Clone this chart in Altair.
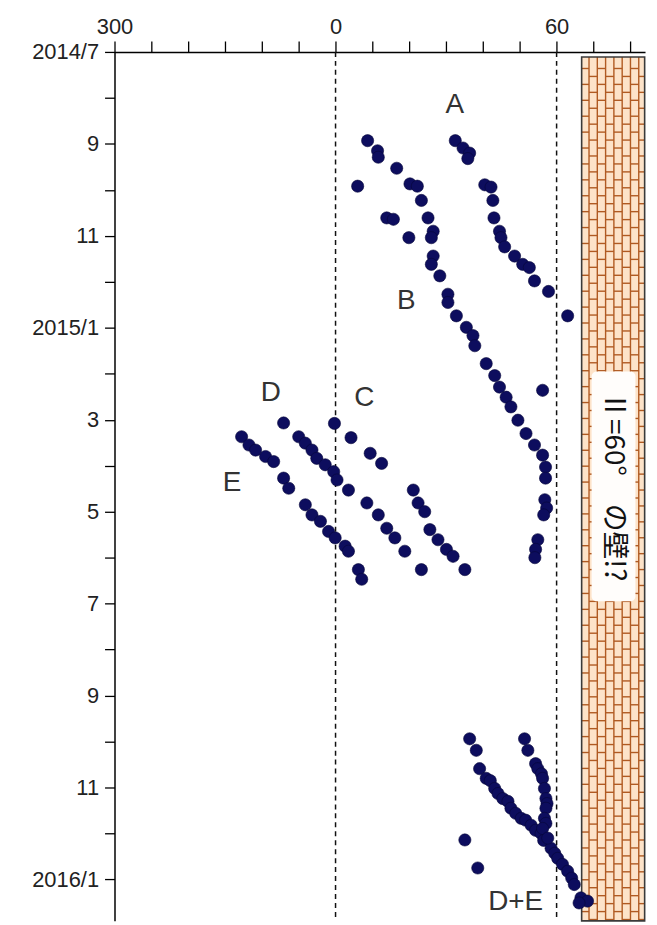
import altair as alt
import pandas as pd
import numpy as np

# ---- data: longitude (System II, deg; 300 is drawn as -60) and time (months after 2014/7) ----
A_lon = [32.5, 34.6, 36.4, 35.9, 40.5, 42.2, 42.7, 43.0, 44.5, 44.9, 45.9, 48.6, 50.8, 52.6, 54.0, 57.8, 63.0]
A_mon = [1.93, 2.09, 2.20, 2.32, 2.89, 2.94, 3.23, 3.61, 3.90, 4.04, 4.24, 4.44, 4.62, 4.69, 4.98, 5.21, 5.74]

B_lon = [8.7, 11.4, 11.6, 16.6, 20.2, 22.2, 23.3, 25.1, 26.5, 26.0, 26.5, 26.0, 28.3, 30.5, 30.5, 32.8,
         35.5, 37.3, 37.8, 40.9, 43.2, 44.5, 46.3, 47.6, 49.5, 51.7, 54.0, 56.2, 57.0, 57.0, 56.8, 57.3,
         56.5, 54.9, 54.3, 54.1]
B_mon = [1.93, 2.15, 2.29, 2.53, 2.87, 2.92, 3.23, 3.61, 3.90, 4.04, 4.44, 4.62, 4.87, 5.27, 5.45, 5.74,
         5.99, 6.17, 6.39, 6.78, 7.04, 7.29, 7.51, 7.72, 8.01, 8.30, 8.55, 8.77, 9.03, 9.27, 9.74, 9.92,
         10.07, 10.61, 10.82, 11.00]

C_lon = [-0.3, 4.2, 9.4, 12.5, 21.1, 22.4, 24.2, 25.6, 27.8, 30.1, 31.9, 35.1]
C_mon = [8.08, 8.39, 8.73, 8.95, 9.53, 9.81, 10.00, 10.39, 10.61, 10.82, 10.97, 11.26]

D_lon = [-14.1, -10.0, -8.2, -6.4, -5.1, -2.8, -0.5, 0.4, 3.5, 8.5, 11.6, 13.9, 16.1, 18.8, 23.3]
D_mon = [8.07, 8.37, 8.51, 8.66, 8.84, 8.98, 9.13, 9.31, 9.53, 9.81, 10.07, 10.36, 10.57, 10.86, 11.26]

E_lon = [-25.5, -23.5, -21.7, -19.0, -16.8, -14.1, -12.7, -8.2, -6.4, -4.1, -1.9, -0.1, 2.6, 3.5, 6.2, 7.1]
E_mon = [8.37, 8.55, 8.66, 8.80, 8.91, 9.27, 9.49, 9.85, 10.07, 10.21, 10.43, 10.57, 10.75, 10.86, 11.26, 11.47]

DE_lon = [36.4, 38.2, 39.1, 40.9, 42.0, 43.2, 44.1, 45.4, 46.8, 47.6, 48.9, 50.4, 51.6, 53.1, 54.3, 55.8,
          56.5, 58.5, 59.5, 60.3, 61.6, 63.0, 64.1, 64.8, 66.6, 68.4, 66.1,
          51.3, 52.2, 54.3, 54.9, 55.9, 56.2, 56.7, 57.1, 57.4, 57.1, 56.7, 57.1, 56.2, 57.6]
DE_mon = [14.94, 15.19, 15.59, 15.80, 15.85, 16.02, 16.13, 16.24, 16.30, 16.45, 16.56, 16.67, 16.71, 16.82,
          16.93, 17.00, 17.15, 17.32, 17.43, 17.54, 17.67, 17.82, 17.97, 18.11, 18.40, 18.47, 18.51,
          14.94, 15.19, 15.48, 15.59, 15.70, 15.80, 16.02, 16.24, 16.35, 16.45, 16.67, 16.78, 16.89, 17.10]

other_lon = [6.0, 13.9, 15.7, 19.9, 56.2, 35.1, 38.6]
other_mon = [2.92, 3.61, 3.64, 4.04, 7.36, 17.14, 17.75]

label_text = ["A", "B", "C", "D", "E", "D+E"]
label_lon = [32.4, 19.2, 7.8, -17.6, -28.1, 48.9]
label_mon = [1.15, 5.41, 7.53, 7.42, 9.37, 18.5]

ref_lon = [0, 60]
wall_text = "Ⅱ=60°　の壁!?"

# ---- tables ----
pts = pd.DataFrame({
    "lon": A_lon + B_lon + C_lon + D_lon + E_lon + DE_lon + other_lon,
    "mon": A_mon + B_mon + C_mon + D_mon + E_mon + DE_mon + other_mon,
})
labels = pd.DataFrame({"t": label_text, "lon": label_lon, "mon": label_mon})
refs = pd.DataFrame({"lon": ref_lon})

# wall (decorative brick area)
W0, W1, T0, T1 = 66.8, 83.9, 0.11, 18.9
wall = pd.DataFrame({"x": [W0], "x2": [W1], "y": [T0], "y2": [T1]})
col_w, row_h = 2.25, 0.346
vx = np.arange(W0 + 2.0, W1, col_w)
vlines = pd.DataFrame({"x": vx, "y": T0, "y2": T1})
edges = np.concatenate([[W0], vx, [W1]])
hrows = []
for k in range(len(edges) - 1):
    off = 0.0 if k % 2 == 0 else row_h / 2
    for yy in np.arange(T0 + 0.25 + off, T1, row_h):
        hrows.append({"x": edges[k], "x2": edges[k + 1], "y": yy})
hlines = pd.DataFrame(hrows)
wbox = pd.DataFrame({"x": [69.5], "x2": [81.4], "y": [6.95], "y2": [11.95]})
wtext = pd.DataFrame({"t": [wall_text], "x": [75.4], "y": [9.45]})

FONT = "Liberation Sans, Arial, sans-serif"

xscale = alt.Scale(domain=[-60, 84], nice=False, zero=False)
yscale = alt.Scale(domain=[0, 18.9], nice=False, zero=False, reverse=True)
xaxis = alt.Axis(orient="top", values=list(range(-60, 81, 10)), title=None, grid=False,
                 labelExpr="datum.value == -60 ? '300' : (datum.value == 0 || datum.value == 60 ? '' + datum.value : '')",
                 tickSize=11, tickColor="black", domainColor="black", tickWidth=1.3, domainWidth=1.5,
                 labelFont=FONT, labelFontSize=22, labelColor="#222", labelPadding=3,
                 labelFlush=False, labelOverlap=False, labelBound=False)
yaxis = alt.Axis(orient="left", values=list(range(0, 19)), title=None, grid=False,
                 labelExpr="datum.value % 2 != 0 ? '' : ((datum.value == 0 || (datum.value + 6) % 12 == 0) ? (2014 + floor((datum.value + 6) / 12)) + '/' + (((datum.value + 6) % 12) + 1) : '' + (((datum.value + 6) % 12) + 1))",
                 tickSize=10, tickColor="black", domainColor="black", tickWidth=1.3, domainWidth=1.5,
                 labelFont=FONT, labelFontSize=22, labelColor="#222", labelPadding=6,
                 labelFlush=False, labelOverlap=False, labelBound=False)


def X(f):
    return alt.X(f, type="quantitative", scale=xscale, axis=xaxis)


def Y(f):
    return alt.Y(f, type="quantitative", scale=yscale, axis=yaxis)


wall_bg = alt.Chart(wall).mark_rect(fill="#fde3c9").encode(x=X("x"), x2="x2", y=Y("y"), y2="y2")
brick_v = alt.Chart(vlines).mark_rule(color="#b05a22", strokeWidth=1.4).encode(x=X("x"), y=Y("y"), y2="y2")
brick_h = alt.Chart(hlines).mark_rule(color="#b05a22", strokeWidth=1.4).encode(x=X("x"), x2="x2", y=Y("y"))
wall_edge = alt.Chart(wall).mark_rect(filled=False, stroke="#3a3a3a", strokeWidth=1.6).encode(
    x=X("x"), x2="x2", y=Y("y"), y2="y2")
box = alt.Chart(wbox).mark_rect(fill="#fffdfb", cornerRadius=5).encode(x=X("x"), x2="x2", y=Y("y"), y2="y2")
btxt = alt.Chart(wtext).mark_text(angle=90, fontSize=28, font="Noto Sans CJK JP", color="#111",
                                  align="center", baseline="middle").encode(x=X("x"), y=Y("y"), text="t")
dash = alt.Chart(refs).mark_rule(color="#111", strokeDash=[5, 4], strokeWidth=1.5).encode(x=X("lon"))
dots = alt.Chart(pts).mark_circle(size=150, color="#0d0d5e", opacity=1, stroke="#06063a",
                                  strokeWidth=0.6).encode(x=X("lon"), y=Y("mon"))
lbl = alt.Chart(labels).mark_text(fontSize=28, font="Liberation Sans, Arial, sans-serif", color="#333",
                                  align="center", baseline="middle").encode(x=X("lon"), y=Y("mon"), text="t")

chart = alt.layer(wall_bg, brick_v, brick_h, wall_edge, box, btxt, dash, dots, lbl).properties(
    width=533, height=873,
    autosize=alt.AutoSizeParams(type="none"),
    padding={"left": 107, "top": 42, "right": 4, "bottom": 0},
).configure_view(stroke=None)

chart.save("out.html", embed_options={"renderer": "svg", "actions": False})
